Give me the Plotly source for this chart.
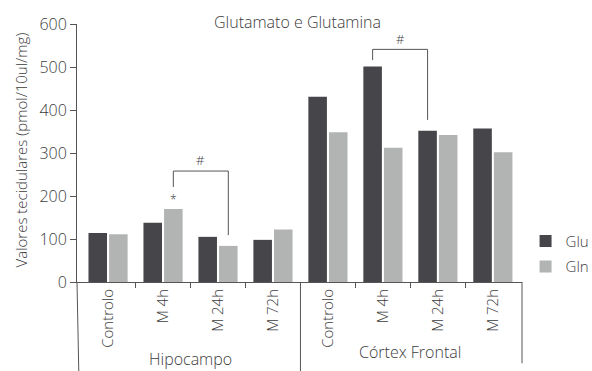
import plotly.graph_objects as go

# Categories and measured tissue values (pmol/10ul/mg)
conditions = ["Controlo", "M 4h", "M 24h", "M 72h", "Controlo", "M 4h", "M 24h", "M 72h"]
regions = ["Hipocampo", "Córtex Frontal"]
glu = [114, 138, 105, 98, 431, 501, 352, 357]
gln = [111, 170, 84, 122, 348, 312, 342, 302]
y_ticks = [0, 100, 200, 300, 400, 500, 600]

positions = list(range(len(conditions)))
GLU_COLOR = "#46464a"
GLN_COLOR = "#b2b4b4"
TEXT = "#3c3c3c"
LINE = "#555555"
FONT = "Open Sans"
BAR_OFF = 0.1875  # half of a bar slot inside a group

fig = go.Figure()
fig.add_trace(go.Bar(x=positions, y=glu, name="Glu", marker=dict(color=GLU_COLOR, line=dict(width=0)),
                     legendgroup="a"))
fig.add_trace(go.Bar(x=positions, y=gln, name="Gln", marker=dict(color=GLN_COLOR, line=dict(width=0)),
                     legendgroup="b"))

fig.update_layout(
    width=592, height=371,
    margin=dict(l=77, r=70, t=24, b=89, autoexpand=False),
    paper_bgcolor="white", plot_bgcolor="white",
    barmode="group", bargap=0.25, bargroupgap=0.1,
    font=dict(family=FONT, color=TEXT, size=14, weight=300),
    showlegend=True,
    legend=dict(x=1.008, y=0.222, xanchor="left", yanchor="top",
                traceorder="grouped", tracegroupgap=3,
                font=dict(size=15, color=TEXT, weight=300), itemwidth=30,
                bgcolor="rgba(0,0,0,0)"),
    xaxis=dict(
        range=[-0.565, 7.53], tickmode="array", tickvals=positions, ticktext=conditions,
        tickangle=-90, ticks="", showline=True, linecolor=LINE, linewidth=1,
        showgrid=False, zeroline=False, automargin=False,
        tickfont=dict(size=15, color=TEXT, weight=300),
        minor=dict(tickmode="array", tickvals=[0.5, 1.5, 2.5, 4.5, 5.5, 6.5],
                   ticks="outside", ticklen=5, tickcolor=LINE, tickwidth=1, showgrid=False),
    ),
    yaxis=dict(
        range=[0, 600], tickmode="array", tickvals=y_ticks, ticks="outside",
        ticklen=6, tickcolor=LINE, showline=True, linecolor=LINE, linewidth=1,
        showgrid=False, zeroline=False, automargin=False,
        tickfont=dict(size=16, color=TEXT, weight=300),
    ),
)

# Axis extensions and group divider lines below the x axis
fig.add_shape(type="line", xref="paper", yref="paper", x0=0, x1=0.004, y0=0, y1=-0.345,
              line=dict(color=LINE, width=1))
fig.add_shape(type="line", xref="x", yref="paper", x0=3.5, x1=3.5, y0=0, y1=-0.345,
              line=dict(color=LINE, width=1))
fig.add_shape(type="line", xref="paper", yref="paper", x0=1, x1=1, y0=0, y1=-0.315,
              line=dict(color=LINE, width=1))

# Region labels under the condition labels
for center, label, yy in [(1.5, regions[0], -0.3), (5.5, regions[1], -0.27)]:
    fig.add_annotation(x=center, y=yy, xref="x", yref="paper", text=label, showarrow=False,
                       font=dict(size=16, color=TEXT, weight=300), xanchor="center", yanchor="middle")

# Title and y-axis title
fig.add_annotation(x=0.496, y=1.008, xref="paper", yref="paper", text="Glutamato e Glutamina",
                   showarrow=False, font=dict(size=16, color=TEXT, weight=300), yanchor="middle")
fig.add_annotation(x=0, xshift=-56, y=0.51, xref="paper", yref="paper", xanchor="center",
                   yanchor="middle", text="Valores tecidulares (pmol/10ul/mg)", textangle=-90,
                   showarrow=False, font=dict(size=15, color=TEXT, weight=300))

# Significance brackets
def bracket(x_left, x_right, y_top, y_left, y_right, symbol_y):
    fig.add_shape(type="line", x0=x_left, x1=x_right, y0=y_top, y1=y_top, line=dict(color=LINE, width=1))
    fig.add_shape(type="line", x0=x_left, x1=x_left, y0=y_left, y1=y_top, line=dict(color=LINE, width=1))
    fig.add_shape(type="line", x0=x_right, x1=x_right, y0=y_right, y1=y_top, line=dict(color=LINE, width=1))
    fig.add_annotation(x=(x_left + x_right) / 2, y=symbol_y, text="#", showarrow=False,
                       font=dict(size=13, color=TEXT))

# Hipocampo: Gln M 4h vs Gln M 24h
bracket(1 + BAR_OFF, 2 + BAR_OFF, 258, 221, 109, 283)
fig.add_annotation(x=1 + BAR_OFF, y=gln[1] + 22, text="*", showarrow=False,
                   font=dict(size=12, color=TEXT))
# Córtex Frontal: Glu M 4h vs Glu M 24h
bracket(5 - BAR_OFF, 6 - BAR_OFF, 541, 516, 377, 566)

fig.write_html("out.html")
